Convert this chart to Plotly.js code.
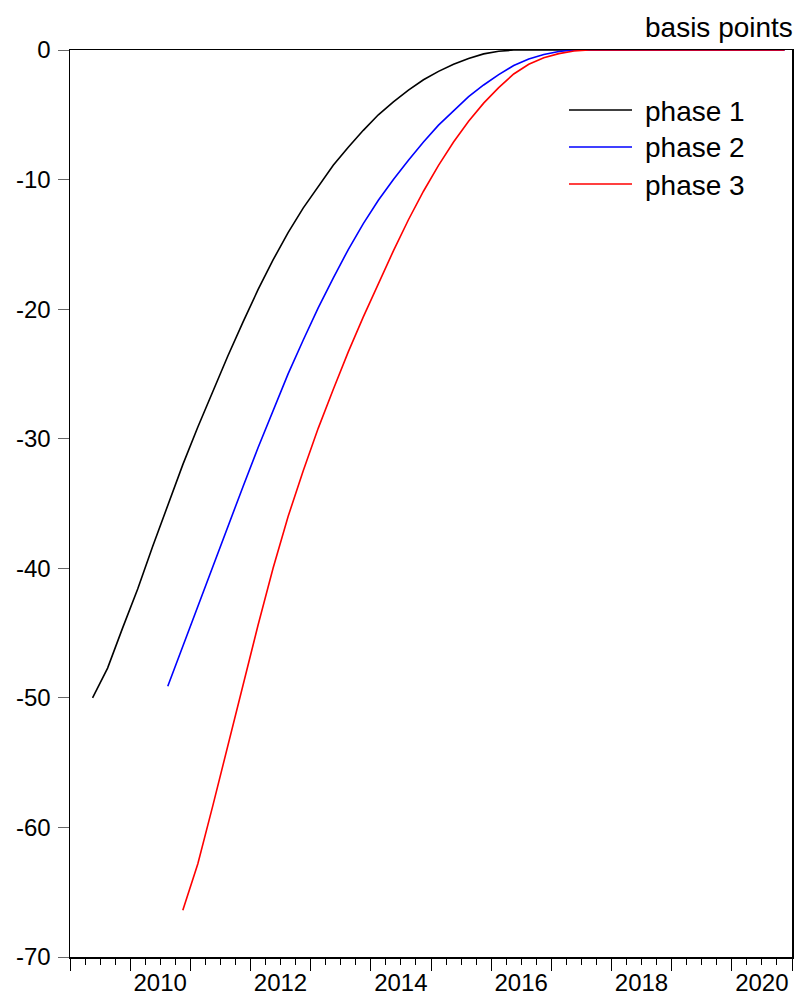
<!DOCTYPE html>
<html>
<head>
<meta charset="utf-8">
<script src="https://cdn.plot.ly/plotly-3.0.1.min.js"></script>
<style>
  html, body { margin: 0; padding: 0; background: #fff; }
  #chart { width: 798px; height: 995px; }
</style>
</head>
<body>
<div id="chart"></div>
<script>
// Quarterly observations, 2009Q2 .. 2020Q4
const quarters = [
  '2009Q2','2009Q3','2009Q4',
  '2010Q1','2010Q2','2010Q3','2010Q4',
  '2011Q1','2011Q2','2011Q3','2011Q4',
  '2012Q1','2012Q2','2012Q3','2012Q4',
  '2013Q1','2013Q2','2013Q3','2013Q4',
  '2014Q1','2014Q2','2014Q3','2014Q4',
  '2015Q1','2015Q2','2015Q3','2015Q4',
  '2016Q1','2016Q2','2016Q3','2016Q4',
  '2017Q1','2017Q2','2017Q3','2017Q4',
  '2018Q1','2018Q2','2018Q3','2018Q4',
  '2019Q1','2019Q2','2019Q3','2019Q4',
  '2020Q1','2020Q2','2020Q3','2020Q4'
];

// Effect in basis points (null = phase not yet started)
const phase1 = [
  -50.0, -47.7, -44.6,
  -41.6, -38.3, -35.1, -32.0,
  -29.1, -26.3, -23.6, -21.0,
  -18.5, -16.2, -14.1, -12.2,
  -10.5, -8.9, -7.5, -6.2,
  -5.0, -4.0, -3.1, -2.3,
  -1.65, -1.1, -0.65, -0.3,
  -0.1, 0, 0, 0,
  0, 0, 0, 0,
  0, 0, 0, 0,
  0, 0, 0, 0,
  0, 0, 0, 0
];
const phase2 = [
  null, null, null,
  null, null, -49.1, -46.0,
  -42.9, -39.8, -36.7, -33.7,
  -30.7, -27.8, -25.0, -22.4,
  -19.9, -17.6, -15.4, -13.4,
  -11.6, -10.0, -8.5, -7.1,
  -5.8, -4.7, -3.6, -2.7,
  -1.9, -1.2, -0.7, -0.35,
  -0.12, 0, 0, 0,
  0, 0, 0, 0,
  0, 0, 0, 0,
  0, 0, 0, 0
];
const phase3 = [
  null, null, null,
  null, null, null, -66.4,
  -62.8, -58.3, -53.6, -49.0,
  -44.4, -40.0, -36.0, -32.5,
  -29.2, -26.2, -23.3, -20.6,
  -18.0, -15.5, -13.1, -10.9,
  -8.9, -7.1, -5.5, -4.1,
  -2.9, -1.85, -1.1, -0.6,
  -0.28, -0.08, 0, 0,
  0, 0, 0, 0,
  0, 0, 0, 0,
  0, 0, 0, 0
];

const seriesNames = ['phase 1', 'phase 2', 'phase 3'];
const seriesColors = ['#000000', '#0000ff', '#ff0000'];

// Year ticks on the time axis; labels every other year, centred in the year
const yearTicks = [2009, 2010, 2011, 2012, 2013, 2014, 2015, 2016, 2017, 2018, 2019, 2020, 2021];
const yearLabels = ['', '2010', '', '2012', '', '2014', '', '2016', '', '2018', '', '2020', ''];

const yTicks = [0, -10, -20, -30, -40, -50, -60, -70];
const yLabels = ['0', '-10', '-20', '-30', '-40', '-50', '-60', '-70'];

// A quarter is placed at the middle of its three months
function quarterToYear(q) {
  const y = parseInt(q.slice(0, 4), 10);
  const n = parseInt(q.slice(5), 10);
  return y + (n - 1) * 0.25 + 0.125;
}
const xq = quarters.map(quarterToYear);

const allSeries = [phase1, phase2, phase3];
const traces = allSeries.map((vals, i) => ({
  type: 'scatter',
  mode: 'lines',
  x: xq,
  y: vals,
  name: seriesNames[i],
  line: { color: seriesColors[i], width: 1.6 },
  connectgaps: false,
  hoverinfo: 'x+y+name'
}));

// Legend drawn inside the plot frame
const FONT = 'Liberation Sans, Arial, Helvetica, sans-serif';
const plotTop = 50, plotH = 907, plotL = 70, plotW = 722;
const px2x = p => (p - plotL) / plotW;
const px2y = p => (plotTop + plotH - p) / plotH;
const legendRows = [110, 147, 184];

const shapes = seriesNames.map((n, i) => ({
  type: 'line', xref: 'paper', yref: 'paper',
  x0: px2x(569), x1: px2x(632),
  y0: px2y(legendRows[i]), y1: px2y(legendRows[i]),
  line: { color: seriesColors[i], width: 1.6 }
}));

const annotations = seriesNames.map((n, i) => ({
  xref: 'paper', yref: 'paper',
  x: px2x(643), y: px2y(legendRows[i] + 1),
  xanchor: 'left', yanchor: 'middle',
  text: n, showarrow: false,
  font: { family: FONT, size: 28, color: '#000' }
}));
annotations.push({
  xref: 'paper', yref: 'paper',
  x: 1, y: 1, xshift: 3, yshift: 5,
  xanchor: 'right', yanchor: 'bottom',
  text: 'basis points', showarrow: false,
  font: { family: FONT, size: 28, color: '#000' }
});

const layout = {
  width: 798,
  height: 995,
  margin: { l: 70, r: 6, t: 50, b: 38, pad: 0 },
  paper_bgcolor: '#ffffff',
  plot_bgcolor: '#ffffff',
  showlegend: false,
  font: { family: FONT, color: '#000' },
  xaxis: {
    range: [2009, 2021],
    tickmode: 'array',
    tickvals: yearTicks,
    ticktext: yearLabels,
    ticks: 'outside',
    ticklen: 12,
    tickwidth: 1,
    tickcolor: '#000',
    ticklabelshift: 30,
    ticklabelstandoff: -8,
    tickfont: { family: FONT, size: 24, color: '#000' },
    showgrid: false,
    zeroline: false,
    showline: true,
    linecolor: '#000',
    linewidth: 1.5,
    mirror: true,
    minor: {
      ticks: 'outside',
      ticklen: 6,
      tickwidth: 1,
      tickcolor: '#000',
      tick0: 2009,
      dtick: 0.25,
      showgrid: false
    }
  },
  yaxis: {
    range: [-70, 0],
    tickmode: 'array',
    tickvals: yTicks,
    ticktext: yLabels,
    ticks: 'outside',
    ticklen: 11,
    tickwidth: 1,
    tickcolor: '#666',
    ticklabelstandoff: 2,
    tickfont: { family: FONT, size: 24, color: '#000' },
    showgrid: false,
    zeroline: false,
    showline: true,
    linecolor: '#000',
    linewidth: 1.5,
    mirror: true
  },
  shapes: shapes,
  annotations: annotations
};

Plotly.newPlot('chart', traces, layout, { displayModeBar: false, staticPlot: true });
</script>
</body>
</html>
